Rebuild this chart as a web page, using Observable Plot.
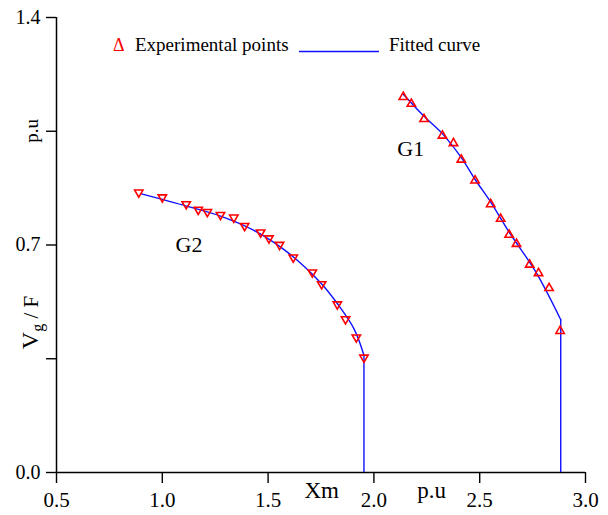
<!DOCTYPE html>
<html>
<head>
<meta charset="utf-8">
<script src="https://cdn.jsdelivr.net/npm/d3@7"></script>
<script src="https://cdn.jsdelivr.net/npm/@observablehq/plot@0.6"></script>
<style>
  html, body { margin: 0; padding: 0; background: #fff; }
  #chart { width: 608px; height: 515px; }
</style>
</head>
<body>
<div id="chart"></div>
<script>
// ---- Data ----
const g1PointX = [2.139, 2.177, 2.237, 2.324, 2.376, 2.413, 2.478, 2.552, 2.599, 2.639, 2.674, 2.736, 2.778, 2.828, 2.880];
const g1PointY = [1.159, 1.138, 1.091, 1.040, 1.017, 0.966, 0.902, 0.829, 0.784, 0.735, 0.707, 0.643, 0.617, 0.571, 0.439];

const g2PointX = [0.889, 1.000, 1.113, 1.170, 1.213, 1.275, 1.338, 1.389, 1.465, 1.504, 1.554, 1.619, 1.709, 1.753, 1.827, 1.866, 1.917, 1.953];
const g2PointY = [0.858, 0.843, 0.822, 0.805, 0.798, 0.789, 0.781, 0.755, 0.735, 0.717, 0.697, 0.658, 0.612, 0.576, 0.514, 0.468, 0.412, 0.350];

// fitted curves (arc part), then the vertical drop to the x axis at the last x
const g1CurveX = [2.139, 2.237, 2.324, 2.413, 2.480, 2.552, 2.639, 2.765, 2.883];
const g1CurveY = [1.164, 1.096, 1.042, 0.969, 0.900, 0.832, 0.740, 0.617, 0.470];

const g2CurveX = [0.897, 1.118, 1.275, 1.433, 1.591, 1.748, 1.827, 1.906, 1.953];
const g2CurveY = [0.858, 0.819, 0.789, 0.745, 0.678, 0.584, 0.520, 0.442, 0.360];

const xTicks = [0.5, 1.0, 1.5, 2.0, 2.5, 3.0];
const yTicksMajor = [0.0, 0.7, 1.4];
const yTicksMinor = [0.35, 1.05];

const curveLabels = ["G1", "G2"];
const curveLabelX = [2.174, 1.126];
const curveLabelY = [0.994, 0.700];

const xAxisTitleParts = ["Xm", "p.u"];
const xAxisTitleAt = [1.753, 2.273];

const legendItems = ["Experimental points", "Fitted curve"];

// ---- Build tables ----
const zip = (xs, ys) => xs.map((x, i) => ({x, y: ys[i]}));
const g1Points = zip(g1PointX, g1PointY);
const g2Points = zip(g2PointX, g2PointY);
const g1Curve = zip(g1CurveX, g1CurveY);
const g2Curve = zip(g2CurveX, g2CurveY);
const drops = [g1Curve[g1Curve.length - 1], g2Curve[g2Curve.length - 1]];
const labels = curveLabels.map((t, i) => ({t, x: curveLabelX[i], y: curveLabelY[i]}));
const xTitles = xAxisTitleParts.map((t, i) => ({t, x: xAxisTitleAt[i]}));

const triangleDown = {
  draw(ctx, size) {
    const y = Math.sqrt(size / (Math.sqrt(3) * 3));
    ctx.moveTo(0, 2 * y);
    ctx.lineTo(-Math.sqrt(3) * y, -y);
    ctx.lineTo(Math.sqrt(3) * y, -y);
    ctx.closePath();
  }
};

const RED = "#ff0000";
const BLUE = "#1010ff";
const FONT = "'Liberation Serif', 'Times New Roman', serif";

const plot = Plot.plot({
  width: 608,
  height: 515,
  marginLeft: 56,
  marginRight: 23,
  marginTop: 17,
  marginBottom: 43,
  style: {fontFamily: FONT, background: "#fff", color: "#000"},
  x: {domain: [0.5, 3.0]},
  y: {domain: [0, 1.4]},
  marks: [
    Plot.axisX({ticks: xTicks, tickSize: 11, tickPadding: 9, fontSize: 21, tickFormat: d3.format(".1f"), label: null, strokeWidth: 1.4}),
    Plot.axisY({ticks: yTicksMajor, tickSize: 10, tickPadding: 6, fontSize: 20, tickFormat: d3.format(".1f"), label: null, strokeWidth: 1.4}),
    Plot.axisY({ticks: yTicksMinor, tickSize: 10, tickFormat: () => "", label: null, strokeWidth: 1.4}),
    Plot.ruleX([0.5], {stroke: "#000", strokeWidth: 1.5}),
    Plot.ruleY([0], {stroke: "#000", strokeWidth: 1.5}),
    Plot.line(g1Curve, {x: "x", y: "y", stroke: BLUE, strokeWidth: 1.4, curve: "catmull-rom"}),
    Plot.line(g2Curve, {x: "x", y: "y", stroke: BLUE, strokeWidth: 1.4, curve: "catmull-rom"}),
    Plot.ruleX(drops, {x: "x", y1: 0, y2: "y", stroke: BLUE, strokeWidth: 1.4}),
    Plot.dot(g1Points, {x: "x", y: "y", symbol: "triangle", r: 3.1, stroke: RED, strokeWidth: 1.6, fill: "none", dy: 1.2}),
    Plot.dot(g2Points, {x: "x", y: "y", symbol: triangleDown, r: 3.1, stroke: RED, strokeWidth: 1.6, fill: "none", dy: -1.2}),
    Plot.text(labels, {x: "x", y: "y", text: "t", fontSize: 22, fill: "#000"}),
    Plot.text(xTitles, {x: "x", text: "t", frameAnchor: "bottom", dy: 25, fontSize: 23, fill: "#000"})
  ]
});

document.getElementById("chart").appendChild(plot);

// ---- Y-axis title (rotated, with subscript) ----
const svg = d3.select(plot);
const ys = plot.scale("y");
const yTitle = svg.append("g").attr("font-family", FONT).attr("fill", "#000");
yTitle.append("text")
  .attr("transform", `translate(38,${ys.apply(1.05)}) rotate(-90)`)
  .attr("text-anchor", "middle")
  .attr("font-size", 19)
  .text("p.u");
const vg = yTitle.append("text")
  .attr("transform", `translate(38,${ys.apply(0.46)}) rotate(-90)`)
  .attr("text-anchor", "middle")
  .attr("font-size", 24);
vg.append("tspan").text("V");
vg.append("tspan").attr("font-size", 16).attr("dy", 5).text("g");
vg.append("tspan").attr("dy", -5).attr("font-size", 21).text(" / F");

// ---- Legend ----
const lg = svg.append("g").attr("font-family", FONT).attr("text-anchor", "start");
lg.append("text").attr("x", 113).attr("y", 50.7).attr("font-size", 18).attr("fill", RED).text("Δ");
lg.append("text").attr("x", 135).attr("y", 50.7).attr("font-size", 19).attr("fill", "#000").text(legendItems[0]);
lg.append("line").attr("x1", 299).attr("x2", 379).attr("y1", 51.5).attr("y2", 51.5).attr("stroke", BLUE).attr("stroke-width", 1.3);
lg.append("text").attr("x", 389).attr("y", 50.7).attr("font-size", 19).attr("fill", "#000").text(legendItems[1]);
</script>
</body>
</html>
